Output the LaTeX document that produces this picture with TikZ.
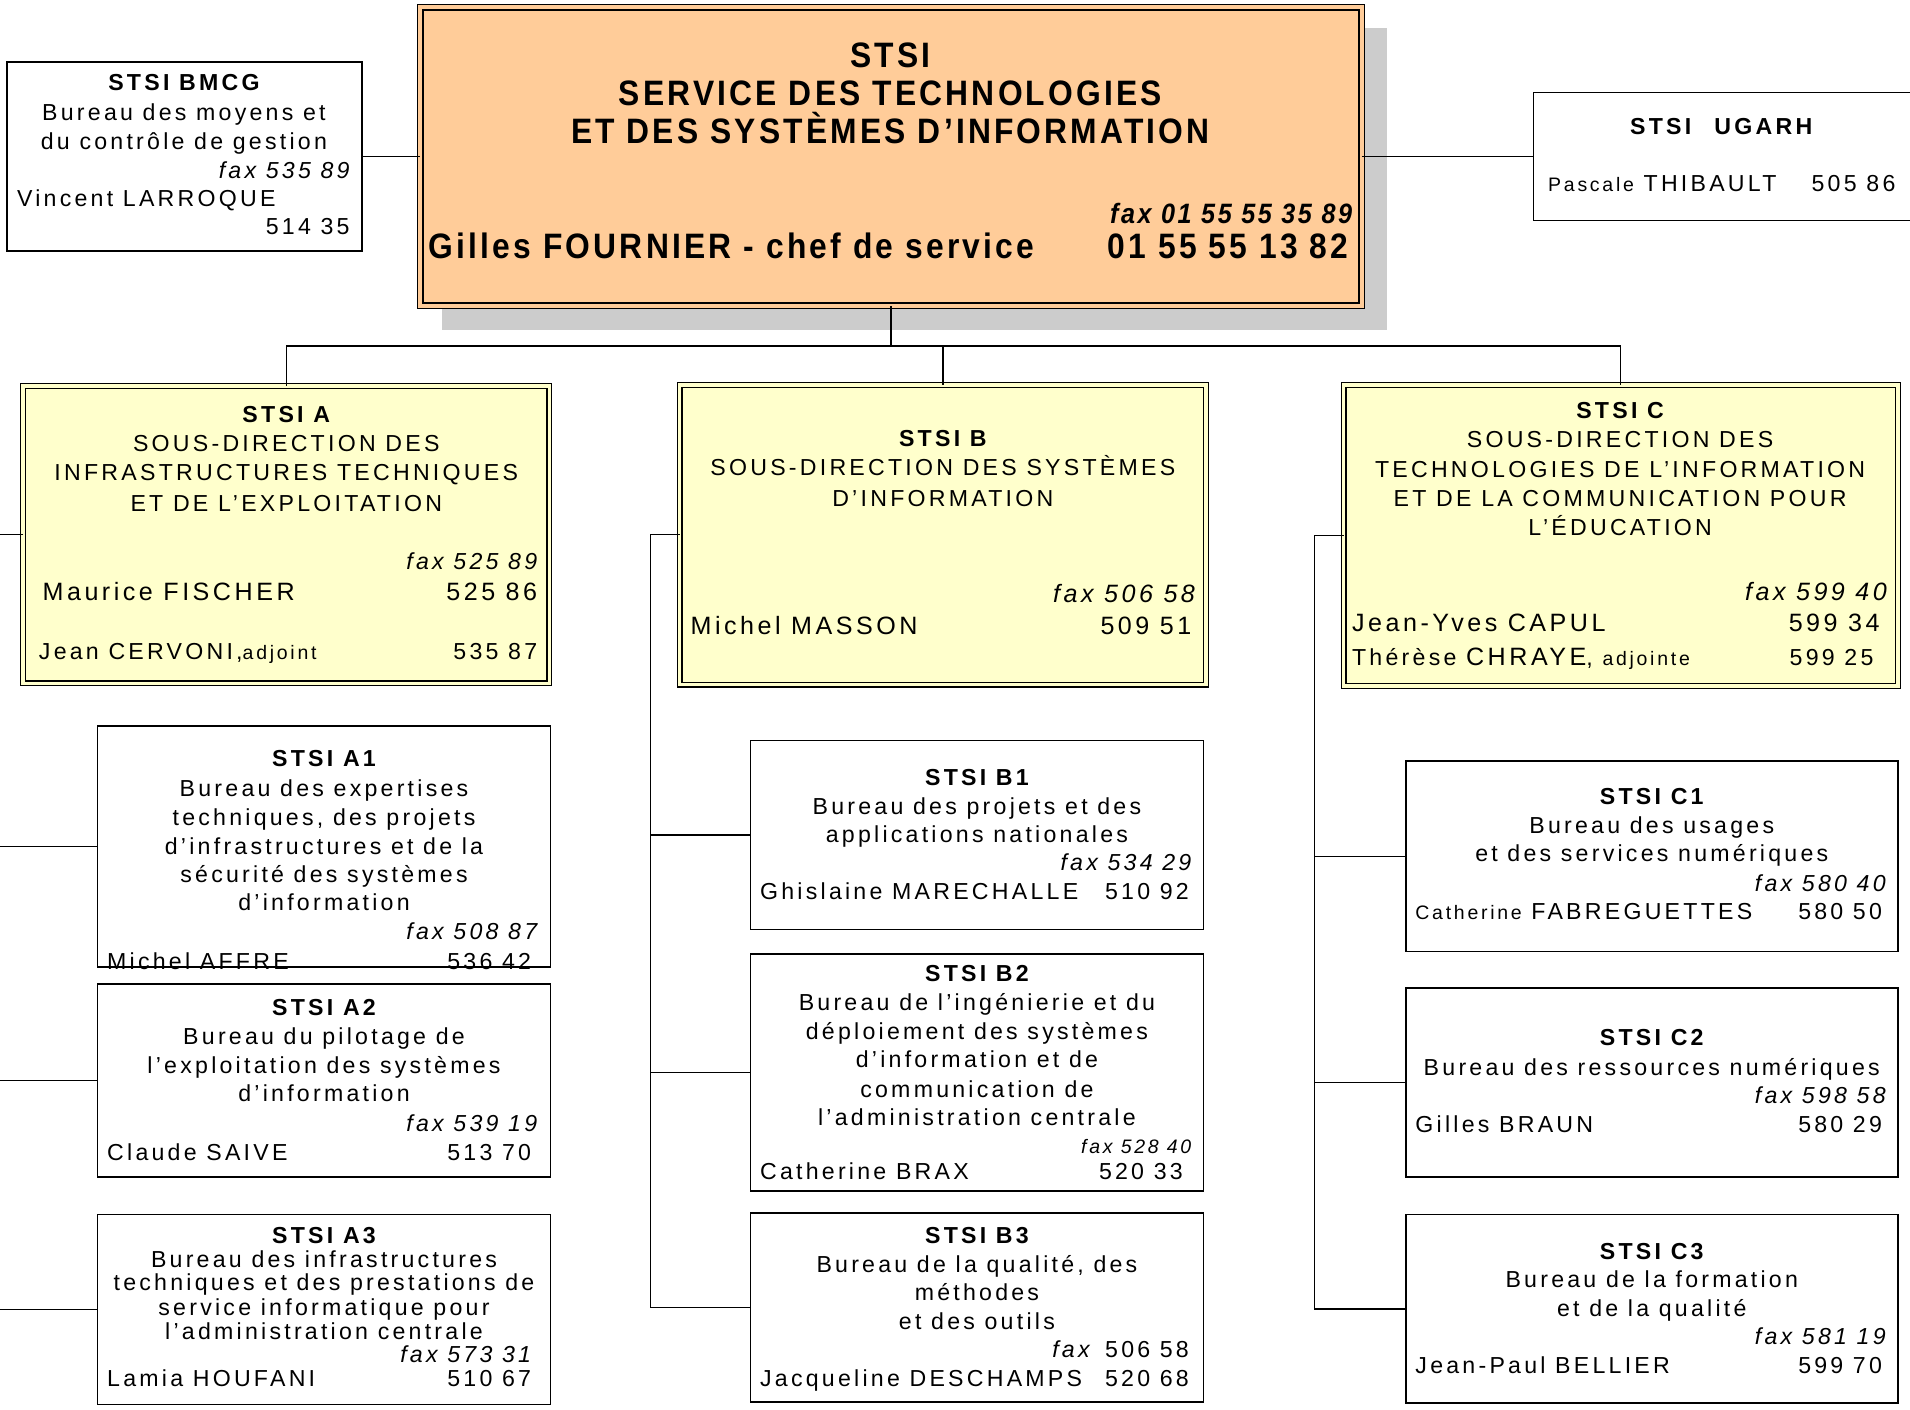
\documentclass[tikz,border=0pt]{standalone}
\usepackage{fontspec}
\setmainfont{Liberation Sans}[LetterSpace=14]
\newfontfamily\condfont{Liberation Sans}[FakeStretch=0.9,LetterSpace=9]
\usetikzlibrary{fit}
\definecolor{peach}{HTML}{FFCC99}
\definecolor{paleyel}{HTML}{FFFFCC}
\definecolor{shadowgray}{HTML}{CCCCCC}
\newcounter{tn}
\newcommand\TC[3]{\stepcounter{tn}\node[txt,anchor=base] (t\arabic{tn}) at (#1,#2) {#3};}
\newcommand\TL[3]{\stepcounter{tn}\node[txt,anchor=base west] (t\arabic{tn}) at (#1,#2) {#3};}
\newcommand\TR[3]{\stepcounter{tn}\node[txt,anchor=base east] (t\arabic{tn}) at (#1,#2) {#3};}
\newcommand\sm{\fontsize{8}{9}\selectfont}
\newcommand\bg{\fontsize{10.3}{12}\selectfont}
\newcommand\ttl{\condfont\bfseries\fontsize{14.5}{17}\selectfont}
\begin{document}
\begin{tikzpicture}[x=0.5pt,y=-0.5pt,
  txt/.style={inner sep=0pt,outer sep=0pt,font=\fontsize{9.5}{11}\selectfont,yshift=-3.3pt},
  box/.style={draw,line width=0.7pt,inner sep=0pt,outer sep=0pt,fill=white},
  subbox/.style={draw,line width=0.55pt,inner sep=0pt,outer sep=0pt,fill=paleyel,double=paleyel,double distance=1.4pt},
  mainbox/.style={draw,line width=0.6pt,inner sep=0pt,outer sep=0pt,fill=peach,double=peach,double distance=1.6pt},
  link/.style={line width=0.6pt}]
\useasboundingbox (0,0) rectangle (1568,1157);
% shadow of main box
\fill[shadowgray] (363,23) rectangle (1139,271);
% boxes
\node[mainbox,fit={(345,6) (1118,251)}] (main) {};
\node[box,fit={(6,51) (297,206)}] (bmcg) {};
\node[box,fit={(1259,76) (1574,181)}] (ugarh) {};
\node[subbox,fit={(19,317) (451,561)}] (A) {};
\node[subbox,fit={(558,316) (990,562)}] (B) {};
\node[subbox,fit={(1103,316) (1558,563)}] (C) {};
\node[box,fit={(80,596) (452,794)}] (A1) {};
\node[box,fit={(80,808) (452,966)}] (A2) {};
\node[box,fit={(80,997) (452,1153)}] (A3) {};
\node[box,fit={(616,608) (988,763)}] (B1) {};
\node[box,fit={(616,783) (988,978)}] (B2) {};
\node[box,fit={(616,996) (988,1151)}] (B3) {};
\node[box,fit={(1154,625) (1558,781)}] (C1) {};
\node[box,fit={(1154,811) (1558,966)}] (C2) {};
\node[box,fit={(1154,997) (1558,1152)}] (C3) {};
% connectors
\coordinate (hy) at (0,284);
\coordinate (asp) at (0,438);
\coordinate (bsp) at (534,438);
\coordinate (csp) at (1079,438);
\draw[link] (bmcg.east) -- (main.west);
\draw[link] (main.east) -- (ugarh.west);
\draw[link] (main.south) -- (main.south |- hy);
\draw[link] (A.north) -- (A.north |- hy) -- (C.north |- hy) -- (C.north);
\draw[link] (B.north) -- (B.north |- hy);
\draw[link] (A.west) -- (A.west -| asp);
\draw[link] (A1.west) -- (A1.west -| asp);
\draw[link] (A2.west) -- (A2.west -| asp);
\draw[link] (A3.west) -- (A3.west -| asp);
\draw[link] (B.west) -- (B.west -| bsp) -- (B3.west -| bsp) -- (B3.west);
\draw[link] (B1.west) -- (B1.west -| bsp);
\draw[link] (B2.west) -- (B2.west -| bsp);
\draw[link] (C.west) -- (C.west -| csp) -- (C3.west -| csp) -- (C3.west);
\draw[link] (C1.west) -- (C1.west -| csp);
\draw[link] (C2.west) -- (C2.west -| csp);
% main texts
\TC{731}{49}{\ttl STSI}
\TC{731}{80}{\ttl SERVICE DES TECHNOLOGIES}
\TC{731}{111}{\ttl ET DES SYSTÈMES D’INFORMATION}
\TR{1110}{177}{\condfont\bfseries\itshape\fontsize{11.5}{13}\selectfont fax 01 55 55 35 89}
\TL{352}{206}{\ttl Gilles FOURNIER - chef de service}
\TR{1107}{206}{\ttl 01 55 55 13 82}
% BMCG
\TC{151}{68}{\bfseries STSI BMCG}
\TC{151}{92}{Bureau des moyens et}
\TC{151}{116}{du contrôle de gestion}
\TR{287}{140}{\itshape fax 535 89}
\TL{14}{163}{Vincent LARROQUE}
\TR{287}{186}{514 35}
% UGARH
\TC{1413}{104}{\bfseries STSI\quad UGARH}
\TL{1271}{151}{{\sm Pascale} THIBAULT}
\TR{1556}{151}{505 86}
% A
\TC{235}{340}{\bfseries STSI A}
\TC{235}{364}{SOUS-DIRECTION DES}
\TC{235}{388}{INFRASTRUCTURES TECHNIQUES}
\TC{235}{413}{ET DE L’EXPLOITATION}
\TR{441}{461}{\itshape fax 525 89}
\TL{35}{486}{\bg Maurice FISCHER}
\TR{441}{486}{\bg 525 86}
\TL{32}{535}{Jean CERVONI,{\sm adjoint}}
\TR{441}{535}{535 87}
% B
\TC{774}{360}{\bfseries STSI B}
\TC{774}{384}{SOUS-DIRECTION DES SYSTÈMES}
\TC{774}{409}{D’INFORMATION}
\TR{981}{488}{\bg\itshape fax 506 58}
\TL{567}{514}{\bg Michel MASSON}
\TR{978}{514}{\bg 509 51}
% C
\TC{1330}{337}{\bfseries STSI C}
\TC{1330}{361}{SOUS-DIRECTION DES}
\TC{1330}{385}{TECHNOLOGIES DE L’INFORMATION}
\TC{1330}{409}{ET DE LA COMMUNICATION POUR}
\TC{1330}{433}{L’ÉDUCATION}
\TR{1549}{486}{\bg\itshape fax 599 40}
\TL{1110}{512}{\bg Jean-Yves CAPUL}
\TR{1543}{512}{\bg 599 34}
\TL{1110}{540}{Thérèse {\bg CHRAYE}, {\sm adjointe}}
\TR{1538}{540}{599 25}
% A1
\TC{266}{623}{\bfseries STSI A1}
\TC{266}{647}{Bureau des expertises}
\TC{266}{671}{techniques, des projets}
\TC{266}{695}{d’infrastructures et de la}
\TC{266}{718}{sécurité des systèmes}
\TC{266}{741}{d’information}
\TR{441}{765}{\itshape fax 508 87}
\TL{88}{789}{Michel AFFRE}
\TR{436}{789}{536 42}
% A2
\TC{266}{827}{\bfseries STSI A2}
\TC{266}{851}{Bureau du pilotage de}
\TC{266}{875}{l’exploitation des systèmes}
\TC{266}{898}{d’information}
\TR{441}{922}{\itshape fax 539 19}
\TL{88}{946}{Claude SAIVE}
\TR{436}{946}{513 70}
% A3
\TC{266}{1014}{\bfseries STSI A3}
\TC{266}{1034}{Bureau des infrastructures}
\TC{266}{1053}{techniques et des prestations de}
\TC{266}{1073}{service informatique pour}
\TC{266}{1093}{l’administration centrale}
\TR{436}{1112}{\itshape fax 573 31}
\TL{88}{1132}{Lamia HOUFANI}
\TR{436}{1132}{510 67}
% B1
\TC{802}{638}{\bfseries STSI B1}
\TC{802}{662}{Bureau des projets et des}
\TC{802}{685}{applications nationales}
\TR{978}{708}{\itshape fax 534 29}
\TL{624}{732}{Ghislaine MARECHALLE}
\TR{976}{732}{510 92}
% B2
\TC{802}{799}{\bfseries STSI B2}
\TC{802}{823}{Bureau de l’ingénierie et du}
\TC{802}{847}{déploiement des systèmes}
\TC{802}{870}{d’information et de}
\TC{802}{894}{communication de}
\TC{802}{917}{l’administration centrale}
\TR{978}{940}{\sm\itshape fax 528 40}
\TL{624}{962}{Catherine BRAX}
\TR{971}{962}{520 33}
% B3
\TC{802}{1014}{\bfseries STSI B3}
\TC{802}{1038}{Bureau de la qualité, des}
\TC{802}{1061}{méthodes}
\TC{802}{1085}{et des outils}
\TR{976}{1108}{\textit{fax}\enspace 506 58}
\TL{624}{1132}{Jacqueline DESCHAMPS}
\TR{976}{1132}{520 68}
% C1
\TC{1356}{654}{\bfseries STSI C1}
\TC{1356}{678}{Bureau des usages}
\TC{1356}{701}{et des services numériques}
\TR{1548}{725}{\itshape fax 580 40}
\TL{1162}{748}{{\sm Catherine} FABREGUETTES}
\TR{1545}{748}{580 50}
% C2
\TC{1356}{852}{\bfseries STSI C2}
\TC{1356}{876}{Bureau des ressources numériques}
\TR{1548}{899}{\itshape fax 598 58}
\TL{1162}{923}{Gilles BRAUN}
\TR{1545}{923}{580 29}
% C3
\TC{1356}{1027}{\bfseries STSI C3}
\TC{1356}{1050}{Bureau de la formation}
\TC{1356}{1074}{et de la qualité}
\TR{1548}{1097}{\itshape fax 581 19}
\TL{1162}{1121}{Jean-Paul BELLIER}
\TR{1545}{1121}{599 70}
\end{tikzpicture}
\end{document}
